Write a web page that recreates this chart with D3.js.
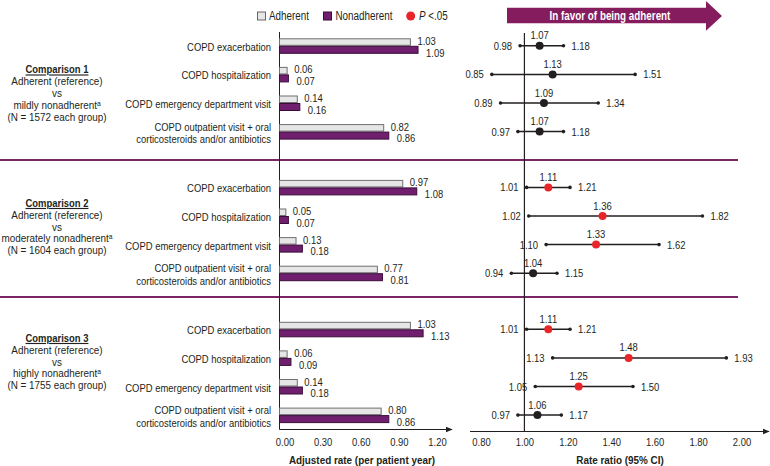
<!DOCTYPE html>
<html><head><meta charset="utf-8">
<script src="https://cdn.jsdelivr.net/npm/d3@7"></script>
<style>
body{margin:0;background:#fff;}
svg text{font-family:"Liberation Sans",Arial,sans-serif;fill:#231f20;}
</style></head>
<body><svg id="c" width="770" height="466"></svg>
<script>
// ---------- data ----------
const categories = ["COPD exacerbation","COPD hospitalization","COPD emergency department visit","COPD outpatient visit + oral|corticosteroids and/or antibiotics"];
const comparisons = ["Comparison 1","Comparison 2","Comparison 3"];
const groupLabels = ["mildly nonadherent","moderately nonadherent","highly nonadherent"];
const groupN = ["1572","1604","1755"];
const adherentRate = [[1.03,0.06,0.14,0.82],[0.97,0.05,0.13,0.77],[1.03,0.06,0.14,0.80]];
const nonadherentRate = [[1.09,0.07,0.16,0.86],[1.08,0.07,0.18,0.81],[1.13,0.09,0.18,0.86]];
const rateRatio = [[1.07,1.13,1.09,1.07],[1.11,1.36,1.33,1.04],[1.11,1.48,1.25,1.06]];
const ciLow = [[0.98,0.85,0.89,0.97],[1.01,1.02,1.10,0.94],[1.01,1.13,1.05,0.97]];
const ciHigh = [[1.18,1.51,1.34,1.18],[1.21,1.82,1.62,1.15],[1.21,1.93,1.50,1.17]];
const significant = [[0,0,0,0],[1,1,1,0],[1,1,1,0]];
const barTicks = [0,0.3,0.6,0.9,1.2];
const rrTicks = [0.8,1.0,1.2,1.4,1.6,1.8,2.0];

// ---------- layout ----------
const svg = d3.select("#c");
const FS = 11.5;
const purple = "#6f1f6d", purpleStroke = "#3b0c3a", sepColor = "#7a2566", arrowColor = "#851c5e", red = "#e8262a";
const xBar = d3.scaleLinear().domain([0,1.2]).range([279.5,432]);
const xRR = d3.scaleLinear().domain([0.8,2.0]).range([481,741.5]);
const sectionTop = [30,160,297], sectionBot = [160,297,430];
const firstRow = [45.8,187.4,329.3], rowStep = 28.6;
const yRow = s => d3.scalePoint().domain(d3.range(categories.length)).range([firstRow[s], firstRow[s]+rowStep*3]);
const fmt = d3.format(".2f");

// separators
svg.selectAll("line.sep").data([160,297]).join("line").attr("class","sep")
  .attr("x1",0).attr("x2",738).attr("y1",d=>d).attr("y2",d=>d)
  .attr("stroke",sepColor).attr("stroke-width",2);

// axes lines
svg.append("defs").append("marker").attr("id","arr").attr("viewBox","0 0 10 10")
  .attr("refX",9).attr("refY",5).attr("markerWidth",7).attr("markerHeight",7).attr("orient","auto")
  .append("path").attr("d","M0,1 L10,5 L0,9 Z").attr("fill","#231f20");
const yAxB = 429.5, yAxF = 431.5;
svg.append("line").attr("x1",279.5).attr("x2",279.5).attr("y1",32).attr("y2",yAxB).attr("stroke","#231f20").attr("stroke-width",1);
svg.append("line").attr("x1",279.5).attr("x2",452).attr("y1",yAxB).attr("y2",yAxB).attr("stroke","#231f20").attr("stroke-width",1).attr("marker-end","url(#arr)");
svg.append("line").attr("x1",xRR(1)).attr("x2",xRR(1)).attr("y1",33).attr("y2",yAxF).attr("stroke","#231f20").attr("stroke-width",1.2);
svg.append("line").attr("x1",470).attr("x2",769).attr("y1",yAxF).attr("y2",yAxF).attr("stroke","#231f20").attr("stroke-width",1).attr("marker-end","url(#arr)");

// tick labels via d3 axes
const gB = svg.append("g").attr("transform",`translate(5,${yAxB})`)
  .call(d3.axisBottom(xBar).tickValues(barTicks).tickFormat(fmt).tickSize(0).tickPadding(8));
gB.select(".domain").remove();
gB.selectAll("text").attr("font-size",FS);
const gF = svg.append("g").attr("transform",`translate(0,${yAxF})`)
  .call(d3.axisBottom(xRR).tickValues(rrTicks).tickFormat(fmt).tickSize(0).tickPadding(6));
gF.select(".domain").remove();
gF.selectAll("text").attr("font-size",FS);
svg.append("text").attr("x",362).attr("y",459.5).attr("dy","0.35em").attr("text-anchor","middle").attr("data-cx",0.86)
  .attr("font-size",FS).attr("font-weight","bold").text("Adjusted rate (per patient year)");
svg.append("text").attr("x",620).attr("y",459.5).attr("dy","0.35em").attr("text-anchor","middle").attr("data-cx",0.86)
  .attr("font-size",FS).attr("font-weight","bold").text("Rate ratio (95% CI)");

// legend
svg.append("rect").attr("x",257.5).attr("y",12).attr("width",8).attr("height",8).attr("fill","#e6e6e6").attr("stroke","#666");
svg.append("text").attr("x",269).attr("y",16).attr("dy","0.35em").attr("font-size",12).text("Adherent");
svg.append("rect").attr("x",323.5).attr("y",12).attr("width",8).attr("height",8).attr("fill",purple).attr("stroke",purpleStroke);
svg.append("text").attr("x",335.5).attr("y",16).attr("dy","0.35em").attr("font-size",12).text("Nonadherent");
svg.append("circle").attr("cx",410.7).attr("cy",16).attr("r",4.5).attr("fill",red);
const pt = svg.append("text").attr("x",419).attr("y",16).attr("dy","0.35em").attr("font-size",12);
pt.append("tspan").attr("font-style","italic").text("P");
pt.append("tspan").text(" <.05");

// favor arrow
svg.append("path").attr("d","M507,7.7 L706,7.7 L706,1 L722,16 L706,30.7 L706,23.3 L507,23.3 Z").attr("fill",arrowColor);
svg.append("text").attr("x",610).attr("y",15.5).attr("dy","0.35em").attr("text-anchor","middle")
  .attr("font-size",12).attr("font-weight","bold").style("fill","#fff").text("In favor of being adherent");

// sections
comparisons.forEach((comp,s) => {
  const y = yRow(s);
  const g = svg.append("g");
  const cy = (sectionTop[s]+sectionBot[s])/2 - 2;
  const lh = 11.8;
  const lines = [comp,"Adherent (reference)","vs",groupLabels[s],`(N = ${groupN[s]} each group)`];
  lines.forEach((t,i) => {
    const tx = g.append("text").attr("x",57).attr("y",cy+(i-2)*lh).attr("dy","0.35em")
      .attr("text-anchor","middle").attr("font-size",FS).attr("data-cx",0.86);
    if(i===0){ tx.attr("font-weight","bold").attr("text-decoration","underline").attr("data-cx",0.82).text(t); }
    else if(i===3){ tx.text(t + "\u1D43"); }
    else tx.text(t);
  });
  categories.forEach((c,j) => {
    const parts = c.split("|");
    const offs = parts.length===1 ? [1] : [-5,7.5];
    parts.forEach((p,k) => {
      g.append("text").attr("x",271).attr("y",y(j)+offs[k]).attr("dy","0.35em").attr("text-anchor","end")
        .attr("font-size",FS).text(p);
    });
  });
  g.selectAll("rect.ad").data(adherentRate[s]).join("rect").attr("class","ad")
    .attr("x",xBar(0)).attr("y",(d,j)=>y(j)-7).attr("width",d=>xBar(d)-xBar(0)).attr("height",6.5)
    .attr("fill","#e6e6e6").attr("stroke","#707070").attr("stroke-width",1);
  g.selectAll("rect.na").data(nonadherentRate[s]).join("rect").attr("class","na")
    .attr("x",xBar(0)).attr("y",(d,j)=>y(j)+0.5).attr("width",d=>xBar(d)-xBar(0)).attr("height",7)
    .attr("fill",purple).attr("stroke",purpleStroke).attr("stroke-width",1);
  g.selectAll("text.adv").data(adherentRate[s]).join("text").attr("class","adv")
    .attr("x",d=>xBar(d)+7).attr("y",(d,j)=>y(j)-5).attr("dy","0.35em").attr("font-size",FS).text(fmt);
  g.selectAll("text.nav").data(nonadherentRate[s]).join("text").attr("class","nav")
    .attr("x",d=>xBar(d)+8).attr("y",(d,j)=>y(j)+6.7).attr("dy","0.35em").attr("font-size",FS).text(fmt);
  rateRatio[s].forEach((rr,j) => {
    const yy = y(j), lo = ciLow[s][j], hi = ciHigh[s][j];
    g.append("line").attr("x1",xRR(lo)).attr("x2",xRR(hi)).attr("y1",yy).attr("y2",yy).attr("stroke","#231f20").attr("stroke-width",1.5);
    [lo,hi].forEach(v => g.append("circle").attr("cx",xRR(v)).attr("cy",yy).attr("r",1.8).attr("fill","#231f20"));
    g.append("circle").attr("cx",xRR(rr)).attr("cy",yy).attr("r",4).attr("fill",significant[s][j]?red:"#231f20");
    g.append("text").attr("x",xRR(rr)).attr("y",yy-10.5).attr("dy","0.35em").attr("text-anchor","middle").attr("font-size",FS).text(fmt(rr));
    g.append("text").attr("x",xRR(lo)-8).attr("y",yy).attr("dy","0.35em").attr("text-anchor","end").attr("font-size",FS).text(fmt(lo));
    g.append("text").attr("x",xRR(hi)+8).attr("y",yy).attr("dy","0.35em").attr("font-size",FS).text(fmt(hi));
  });
});

// condensed look (reference uses a narrow typeface): compress glyphs horizontally
svg.selectAll("text").each(function(){
  const w = this.getComputedTextLength();
  const f = +(this.getAttribute("data-cx") || 0.82);
  if (w > 0) { this.setAttribute("textLength", (w*f).toFixed(1)); this.setAttribute("lengthAdjust","spacingAndGlyphs"); }
});
</script></body></html>
